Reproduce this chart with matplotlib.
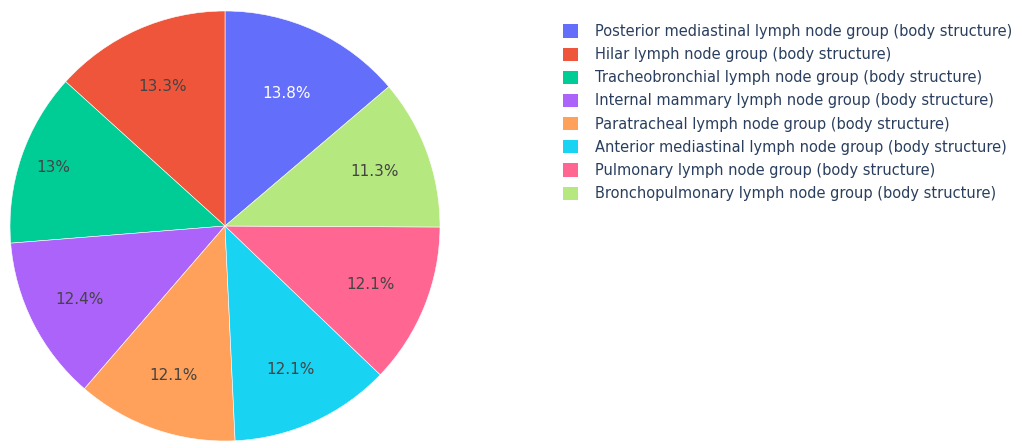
import numpy as np
import matplotlib.pyplot as plt
from matplotlib.patches import Patch

groups = ['Posterior mediastinal lymph node group (body structure)',
          'Hilar lymph node group (body structure)',
          'Tracheobronchial lymph node group (body structure)',
          'Internal mammary lymph node group (body structure)',
          'Paratracheal lymph node group (body structure)',
          'Anterior mediastinal lymph node group (body structure)',
          'Pulmonary lymph node group (body structure)',
          'Bronchopulmonary lymph node group (body structure)']
shares = [13.8, 13.3, 13.0, 12.4, 12.1, 12.1, 12.1, 11.3]
colors = ['#636EFA', '#EF553B', '#00CC96', '#AB63FA',
          '#FFA15A', '#19D3F3', '#FF6692', '#B6E880']

# radial position of each percentage label (fraction of radius)
label_r = [0.68, 0.71, 0.845, 0.76, 0.735, 0.735, 0.73, 0.74]
label_col = ['white'] + ['#444444'] * 7

plt.rcParams['font.family'] = ['DejaVu Sans']
W, H = 1024, 442
fig = plt.figure(figsize=(W/100, H/100), dpi=100)

cx, cy, R = 225, 226, 215
ax = fig.add_axes([(cx-R)/W, (H-cy-R)/H, 2*R/W, 2*R/H])

frac0 = shares[0]/sum(shares)
wedges, texts, autotexts = ax.pie(
    shares, colors=colors, startangle=90-360*frac0, counterclock=True,
    autopct=lambda p: f'{p:.3g}%', pctdistance=0.7, radius=1,
    wedgeprops=dict(edgecolor='white', linewidth=0.4),
    textprops=dict(fontsize=11))
for w, t, r, c in zip(wedges, autotexts, label_r, label_col):
    a = np.deg2rad((w.theta1 + w.theta2)/2)
    t.set_position((r*np.cos(a), r*np.sin(a)))
    t.set_color(c)
ax.set_xlim(-1, 1)
ax.set_ylim(-1, 1)
ax.set_aspect('equal')

handles = [Patch(facecolor=c, edgecolor='none') for c in colors]
fig.legend(handles, groups, loc='upper left',
           bbox_to_anchor=(563/W, 1-24/H), frameon=False,
           fontsize=10.5, labelcolor='#2a3f5f',
           handlelength=1.0, handleheight=1.0, handletextpad=1.2,
           labelspacing=0.56, borderpad=0, borderaxespad=0)

fig.savefig('out.png', dpi=100)
